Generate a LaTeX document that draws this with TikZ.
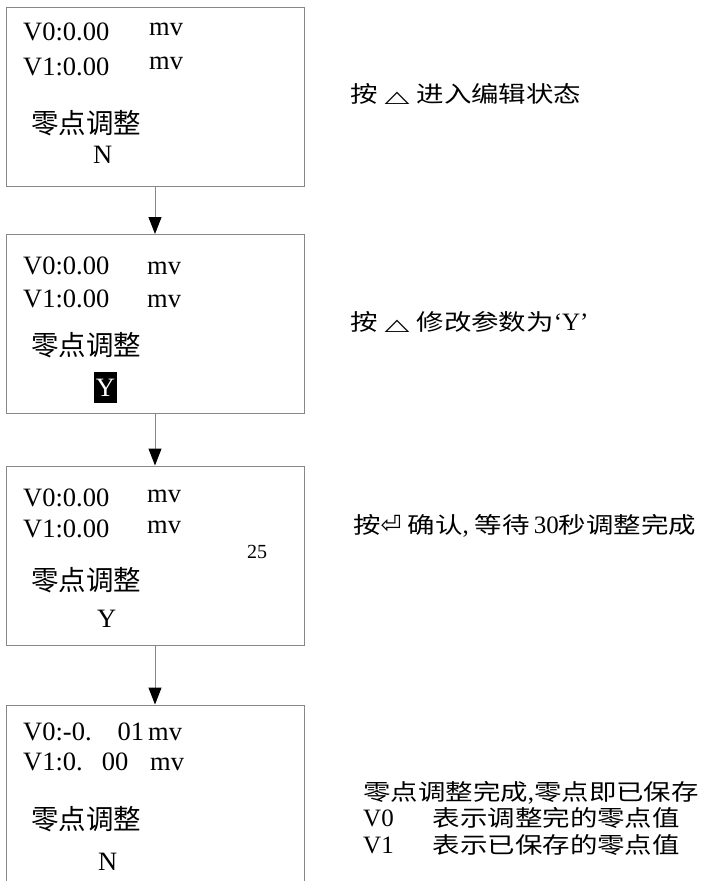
\documentclass[tikz,border=0pt]{standalone}
\usepackage{fontspec}
\usepackage{graphicx}
\setmainfont{Liberation Serif}
\newfontfamily\cjk{Noto Sans CJK SC}
\newfontfamily\cjkwide[FakeStretch=1.22]{Noto Sans CJK SC}
\newfontfamily\symf{DejaVu Sans}
\usetikzlibrary{positioning,arrows.meta}
\definecolor{framegray}{RGB}{135,135,135}
\newcommand{\zh}[1]{{\cjkwide\fontsize{22.5}{26}\selectfont #1}}
\newcommand{\upkey}{{\symf\fontsize{27}{30}\selectfont\scalebox{1.2}[0.6]{△}}}
\newcommand{\enterkey}{{\symf\fontsize{25}{30}\selectfont ⏎}}

\begin{document}
\begin{tikzpicture}[
  x=1pt, y=-1pt,
  screen/.style={draw=framegray, line width=1pt, minimum width=298pt,
    minimum height=179pt, inner sep=0pt},
  val/.style={font=\fontsize{26.5}{30}\selectfont, anchor=base west, inner sep=0pt},
  lbl/.style={font=\cjk\fontsize{27.5}{30}\selectfont, anchor=base west, inner sep=0pt},
  note/.style={font=\fontsize{25}{28}\selectfont, anchor=base west, inner sep=0pt},
  cursor/.style={fill=black, text=white, font=\fontsize{26.5}{30}\selectfont,
    minimum width=23pt, minimum height=31pt, inner sep=0pt},
  flow/.style={draw=framegray, line width=1pt, -{Triangle[length=17pt,width=13pt,black]}}
]
  \useasboundingbox (0,0) rectangle (712,881);

  % --- screens
  \node[screen] (scr1) at (155,96.5) {};
  \node[screen] (scr2) at (155,324) {};
  \node[screen] (scr3) at (155,555.5) {};
  \node[screen, minimum height=178pt] (scr4) at (155,794) {};

  \draw[flow] (scr1) -- (scr2);
  \draw[flow] (scr2) -- (scr3);
  \draw[flow] (scr3) -- (scr4);

  % --- screen 1
  \node[val] (v0a) at (23,40)  {V0:0.00};
  \node[val] (mva) at (149,35) {mv};
  \node[val] (v1a) at (23,75)  {V1:0.00};
  \node[val] (mvb) at (149,69) {mv};
  \node[lbl] (zeroa) at (31,133) {零点调整};
  \node[val] (flaga) at (93,163) {N};

  % --- screen 2
  \node[val] (v0b) at (23,274)  {V0:0.00};
  \node[val] (mvc) at (147,274) {mv};
  \node[val] (v1b) at (23,307)  {V1:0.00};
  \node[val] (mvd) at (147,307) {mv};
  \node[lbl] (zerob) at (31,355) {零点调整};
  \node[cursor] (flagb) at (105.5,387.5) {Y};

  % --- screen 3
  \node[val] (v0c) at (23,506)  {V0:0.00};
  \node[val] (mve) at (147,502) {mv};
  \node[val] (v1c) at (23,537)  {V1:0.00};
  \node[val] (mvf) at (147,533) {mv};
  \node[val, font=\fontsize{20}{24}\selectfont] (count) at (247,558) {25};
  \node[lbl] (zeroc) at (31,590) {零点调整};
  \node[val] (flagc) at (97,627) {Y};

  % --- screen 4
  \node[val] (v0d) at (23,740)  {V0:-0.\hspace{26pt}01};
  \node[val] (mvg) at (148,740) {mv};
  \node[val] (v1d) at (23,770)  {V1:0.\hspace{19pt}00};
  \node[val] (mvh) at (150,770) {mv};
  \node[lbl] (zerod) at (31,829) {零点调整};
  \node[val] (flagd) at (98,870) {N};

  % --- right hand notes
  \node[note] (step1) at (350,102) {\zh{按}\hspace{7pt}\upkey\hspace{7pt}\zh{进入编辑状态}};
  \node[note] (step2) at (350,330) {\zh{按}\hspace{7pt}\upkey\hspace{7pt}\zh{修改参数为}‘Y’};
  \node[note] (step3) at (353,533) {\zh{按}\enterkey\hspace{6pt}\zh{确认},\hspace{6pt}\zh{等待}\,30\zh{秒调整完成}};
  \node[note] (done)  at (363,800) {\zh{零点调整完成},\zh{零点即已保存}};
  \node[note] (keyv0) at (363,826) {V0\hspace{39pt}\zh{表示调整完的零点值}};
  \node[note] (keyv1) at (363,853) {V1\hspace{39pt}\zh{表示已保存的零点值}};
\end{tikzpicture}
\end{document}
